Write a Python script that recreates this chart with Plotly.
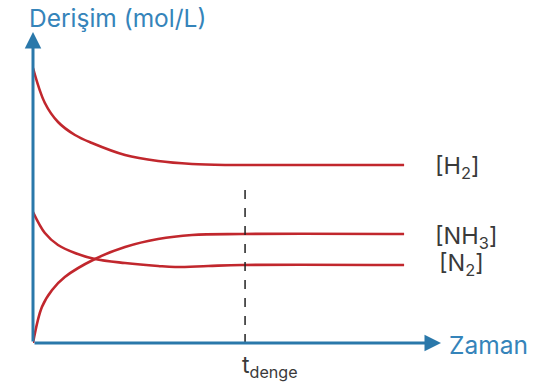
import plotly.graph_objects as go

# time values and concentrations (t_denge = 5)
t_h2 = [0, 0.28, 0.59, 0.99, 1.39, 2.17, 2.95, 3.75, 4.53, 5.0, 8.75]
c_h2 = [2.75, 2.40, 2.21, 2.08, 2.00, 1.88, 1.82, 1.79, 1.78, 1.78, 1.78]

t_n2 = [0, 0.28, 0.59, 0.99, 1.46, 2.17, 2.95, 3.35, 4.13, 4.93, 8.75]
c_n2 = [1.31, 1.10, 0.98, 0.90, 0.84, 0.80, 0.77, 0.76, 0.77, 0.78, 0.78]

t_nh3 = [0, 0.21, 0.45, 0.75, 1.46, 2.17, 2.95, 3.75, 4.93, 8.75]
c_nh3 = [0.0, 0.36, 0.53, 0.66, 0.84, 0.96, 1.04, 1.08, 1.09, 1.09]

t_denge = 5.0
dash_top = 1.58
x_max = 9.62
y_max = 3.11

labels = ["[H<sub>2</sub>]", "[NH<sub>3</sub>]", "[N<sub>2</sub>]"]
label_y = [1.76, 1.06, 0.79]
label_x = [9.43, 9.43, 9.53]

RED = "#c1272d"
BLUE = "#2a78aa"
TXTBLUE = "#3584ba"
GRAY = "#3a3a3a"
FONT = "Inter"

fig = go.Figure()
for t, c in [(t_h2, c_h2), (t_n2, c_n2), (t_nh3, c_nh3)]:
    fig.add_trace(go.Scatter(x=t, y=c, mode="lines",
                             line=dict(color=RED, width=2.6, shape="spline", smoothing=1.0),
                             showlegend=False, hoverinfo="skip", cliponaxis=False))

# dashed equilibrium line
fig.add_trace(go.Scatter(x=[t_denge, t_denge], y=[0, dash_top], mode="lines",
                         line=dict(color="#222222", width=1.5, dash="dash"),
                         showlegend=False, hoverinfo="skip"))

ann = []
# axes with arrows
ann.append(dict(x=x_max, y=0, ax=0, ay=0, xref="x", yref="y", axref="x", ayref="y",
                showarrow=True, arrowhead=2, arrowsize=1.1, arrowwidth=3, arrowcolor=BLUE, text=""))
ann.append(dict(x=0, y=y_max, ax=0, ay=0, xref="x", yref="y", axref="x", ayref="y",
                showarrow=True, arrowhead=2, arrowsize=1.1, arrowwidth=3, arrowcolor=BLUE, text=""))

ann.append(dict(x=-0.0147, y=1.045, xref="paper", yref="paper", text="Derişim (mol/L)", showarrow=False,
                xanchor="left", yanchor="middle", font=dict(family=FONT, size=24.5, color=TXTBLUE)))
ann.append(dict(x=1.0147, y=-0.0064, xref="paper", yref="paper", text="Zaman", showarrow=False,
                xanchor="left", yanchor="middle", font=dict(family=FONT, size=24.5, color=TXTBLUE)))
ann.append(dict(x=0.5196, y=-0.02, xref="paper", yref="paper", text="t<sub>denge</sub>", showarrow=False,
                xanchor="left", yanchor="top", xshift=-5, font=dict(family=FONT, size=23, color=GRAY)))

for lx, ly, lt in zip(label_x, label_y, labels):
    ann.append(dict(x=lx, y=ly, xref="x", yref="y", text=lt, showarrow=False,
                    xanchor="left", yanchor="middle", font=dict(family=FONT, size=23.5, color=GRAY)))

fig.update_layout(
    width=544, height=387,
    margin=dict(l=33, r=544 - 441, t=32, b=387 - 343, pad=0),
    paper_bgcolor="white", plot_bgcolor="white",
    xaxis=dict(range=[0, x_max], visible=False, fixedrange=True),
    yaxis=dict(range=[0, y_max], visible=False, fixedrange=True),
    annotations=ann,
    showlegend=False,
)
fig.write_html("out.html", config={"displayModeBar": False})
